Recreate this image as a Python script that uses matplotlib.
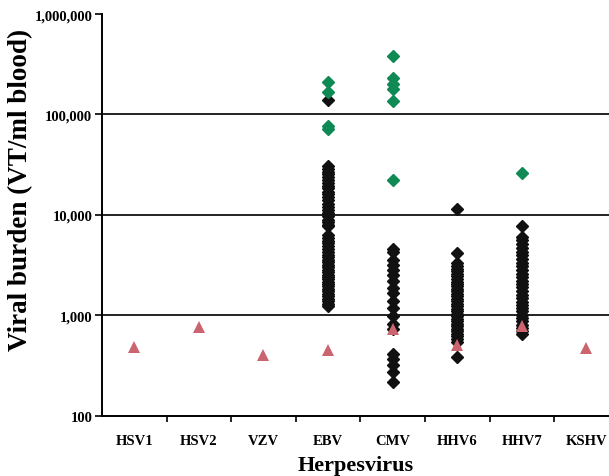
import matplotlib.pyplot as plt
from matplotlib.ticker import FixedLocator, NullLocator

# categories on the x axis
viruses = ["HSV1", "HSV2", "VZV", "EBV", "CMV", "HHV6", "HHV7", "KSHV"]

# black diamonds: viral burden per sample (VT/ml blood)
ebv_black = [140000, 31000, 29000, 27000, 25500, 24000, 22500, 21000, 19500,
             18500, 17000, 16000, 15000, 14000, 13000, 12000, 11200, 10500,
             9800, 9000, 8500, 8000, 7700,
             6300, 5900, 5500, 5200, 4900, 4600, 4300, 4000, 3800, 3600, 3400,
             3200, 3000, 2850, 2700, 2550, 2400, 2280, 2150, 2050, 1950, 1850,
             1750, 1650, 1550, 1450, 1380, 1300, 1250]
cmv_black = [4600, 4300, 3570, 3190, 2840, 2530, 2200, 1890, 1660, 1390, 1175,
             990, 830, 740, 417, 372, 318, 273, 217]
hhv6_black = [11500, 4170, 3300, 3100, 2900, 2750, 2600, 2450, 2300, 2150,
              2050, 1950, 1850, 1750, 1650, 1550, 1450, 1380, 1300, 1230, 1160,
              1100, 1040, 980, 930, 880, 830, 780, 740, 700, 660, 620, 580,
              545, 386]
hhv7_black = [7700, 6100, 5600, 5100, 4700, 4300, 3950, 3650, 3350, 3100,
              2850, 2600, 2400, 2200, 2050, 1900, 1750, 1600, 1480, 1370, 1270,
              1180, 1100, 1020, 950, 880, 810, 750, 700, 660]

# green diamonds
ebv_green = [210000, 166000, 76000, 71000]
cmv_green = [380000, 230000, 200000, 180000, 137000, 22500]
hhv7_green = [26000]

# red triangles, one per virus
triangles = [480, 760, 400, 450, 740, 510, 780, 470]

fig = plt.figure(figsize=(6.09, 4.77), dpi=100)
ax = fig.add_axes([0.1675, 0.126, 0.8325, 0.8425])

plt.rcParams['font.family'] = 'Liberation Serif'

black_groups = {"EBV": ebv_black, "CMV": cmv_black, "HHV6": hhv6_black, "HHV7": hhv7_black}
green_groups = {"EBV": ebv_green, "CMV": cmv_green, "HHV7": hhv7_green}

for name, vals in black_groups.items():
    x = viruses.index(name)
    ax.plot([x] * len(vals), vals, 'D', color='#111111', markersize=6.3, zorder=3)
for name, vals in green_groups.items():
    x = viruses.index(name)
    ax.plot([x] * len(vals), vals, 'D', color='#0f8a55', markersize=6.3, zorder=4)
ax.plot(range(len(viruses)), triangles, '^', color='#cc6470', markersize=9,
        markeredgewidth=0, zorder=5)

ax.set_yscale('log')
ax.set_ylim(100, 1000000)
ax.set_xlim(-0.5, 7.35)

for level in [1000, 10000, 100000]:
    ax.axhline(level, color='#222222', linewidth=1.4, zorder=1)

ax.yaxis.set_major_locator(FixedLocator([100, 1000, 10000, 100000, 1000000]))
ax.yaxis.set_minor_locator(NullLocator())
ax.set_yticklabels(["100", "1,000", "10,000", "100,000", "1,000,000"],
                   fontfamily='Liberation Serif', fontweight='bold', fontsize=10.5)
ax.tick_params(axis='y', direction='out', length=5, width=1.2, pad=2)

ax.set_xticks(range(len(viruses)))
ax.set_xticklabels(viruses, fontfamily='Liberation Serif', fontweight='bold', fontsize=10.5)
ax.set_xticks([i + 0.5 for i in range(7)], minor=True)
ax.tick_params(axis='x', which='major', length=0, pad=13)
ax.tick_params(axis='x', which='minor', direction='out', length=4, width=1.2)

for side in ['top', 'right']:
    ax.spines[side].set_visible(False)
ax.spines['left'].set_linewidth(1.4)
ax.spines['bottom'].set_linewidth(1.4)

ax.set_ylabel("Viral burden (VT/ml blood)", fontfamily='Liberation Serif',
              fontweight='bold', fontsize=19.5)
ax.yaxis.set_label_coords(-0.135, 0.565)
ax.set_xlabel("Herpesvirus", fontfamily='Liberation Serif', fontweight='bold',
              fontsize=16, labelpad=6)

fig.savefig("out.png", dpi=100)
